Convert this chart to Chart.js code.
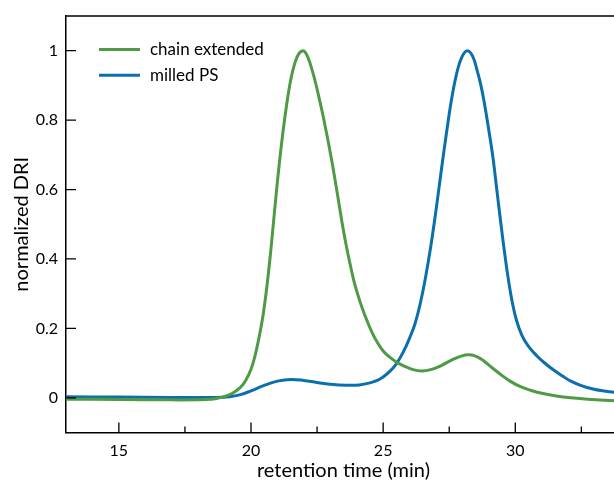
<!DOCTYPE html>
<html>
<head>
<meta charset="utf-8">
<script src="https://cdn.jsdelivr.net/npm/chart.js@4.4.1/dist/chart.umd.min.js"></script>
<style>
	html, body { margin: 0; padding: 0; overflow: hidden; background: #fff; }
	#wrap { position: absolute; left: 0; top: 0; width: 624px; height: 483px; }
</style>
</head>
<body>
<div id="wrap"><canvas id="chart"></canvas></div>
<script>
// Data
// ================================================================================
let chain_x = [13, 15, 17, 18.3, 18.7, 19.0, 19.3, 19.6, 19.8, 20.0, 20.15, 20.3,
	20.45, 20.6, 20.75, 20.9, 21.05, 21.2, 21.35, 21.5, 21.65, 21.8, 21.97, 22.1,
	22.25, 22.4, 22.55, 22.7, 22.85, 23.0, 23.15, 23.3, 23.45, 23.6, 23.75, 23.9,
	24.05, 24.2, 24.4, 24.6, 24.8, 25.0, 25.25, 25.52, 25.8, 26.1, 26.45, 26.8,
	27.2, 27.6, 27.95, 28.22, 28.5, 28.8, 29.1, 29.45, 29.8, 30.2, 30.6, 31.0,
	31.5, 32.1, 32.74, 33.4, 34];
let chain_y = [-0.004, -0.005, -0.006, -0.005, -0.002, 0.004, 0.013, 0.03, 0.05, 0.082, 0.12, 0.172,
	0.235, 0.32, 0.425, 0.545, 0.66, 0.76, 0.845, 0.915, 0.962, 0.99, 1.0, 0.99,
	0.96, 0.92, 0.873, 0.822, 0.766, 0.706, 0.642, 0.573, 0.503, 0.44, 0.385, 0.335,
	0.295, 0.26, 0.22, 0.185, 0.157, 0.135, 0.117, 0.102, 0.091, 0.082, 0.077, 0.081,
	0.093, 0.109, 0.12, 0.124, 0.12, 0.107, 0.088, 0.067, 0.048, 0.032, 0.021, 0.013,
	0.006, 0.0, -0.004, -0.007, -0.009];

let milled_x = [13, 15, 17, 18.5, 19.2, 19.6, 20.0, 20.5, 21.0, 21.5, 22.0, 22.5,
	23.0, 23.6, 24.1, 24.5, 24.8, 25.0, 25.25, 25.5, 25.75, 26.0, 26.2, 26.4,
	26.6, 26.8, 27.0, 27.2, 27.4, 27.6, 27.8, 28.0, 28.19, 28.38, 28.55, 28.7,
	28.85, 29.0, 29.15, 29.3, 29.45, 29.6, 29.75, 29.9, 30.05, 30.25, 30.5, 30.8,
	31.1, 31.45, 31.8, 32.1, 32.5, 32.9, 33.3, 33.75, 34];
let milled_y = [0.003, 0.002, 0.001, 0.001, 0.003, 0.009, 0.02, 0.036, 0.048, 0.053, 0.05, 0.044,
	0.039, 0.036, 0.037, 0.043, 0.051, 0.06, 0.076, 0.098, 0.13, 0.172, 0.212, 0.27,
	0.345, 0.435, 0.54, 0.655, 0.765, 0.865, 0.94, 0.985, 1.0, 0.985, 0.945, 0.9,
	0.84, 0.77, 0.695, 0.6, 0.505, 0.415, 0.335, 0.27, 0.222, 0.18, 0.148, 0.122,
	0.101, 0.08, 0.062, 0.048, 0.035, 0.026, 0.02, 0.016, 0.015];

let x_ticks = [15, 20, 25, 30];
let x_minor_ticks = [17.5, 22.5, 27.5, 32.5];
let y_ticks = [0, 0.2, 0.4, 0.6, 0.8, 1];

let to_points = (xs, ys) => xs.map((x, i) => ({x: x, y: ys[i]}));

const FONT = "Lato, 'Open Sans', sans-serif";

// Inward tick marks, box frame and legend
// ================================================================================
let frame_plugin = {
	id: 'frame',
	afterDatasetsDraw(chart) {
		let ctx = chart.ctx;
		let a = chart.chartArea;
		let xs = chart.scales.x, ys = chart.scales.y;
		ctx.save();
		ctx.strokeStyle = '#000';
		ctx.lineWidth = 1.5;
		ctx.beginPath();
		ctx.moveTo(a.left, a.top); ctx.lineTo(a.right, a.top);
		ctx.lineTo(a.right, a.bottom);
		ctx.stroke();

		ctx.lineWidth = 1.3;
		ctx.beginPath();
		y_ticks.forEach(v => {
			let p = ys.getPixelForValue(v);
			ctx.moveTo(a.left, p); ctx.lineTo(a.left + 10, p);
		});
		x_ticks.forEach(v => {
			let p = xs.getPixelForValue(v);
			ctx.moveTo(p, a.bottom); ctx.lineTo(p, a.bottom - 10);
		});
		x_minor_ticks.forEach(v => {
			let p = xs.getPixelForValue(v);
			ctx.moveTo(p, a.bottom); ctx.lineTo(p, a.bottom - 6);
		});
		ctx.stroke();

		// legend
		ctx.font = "17px " + FONT;
		ctx.textBaseline = 'middle';
		ctx.fillStyle = '#000';
		chart.data.datasets.forEach((ds, i) => {
			let y = a.top + 33.5 + i * 25.7;
			ctx.strokeStyle = ds.borderColor;
			ctx.lineWidth = 3;
			ctx.beginPath();
			ctx.moveTo(a.left + 33, y); ctx.lineTo(a.left + 74, y);
			ctx.stroke();
			ctx.fillText(ds.label, a.left + 84, y);
		});
		ctx.restore();
	}
};

// Chart
// ================================================================================
let chart = new Chart(document.getElementById('chart'), {
	type: 'line',
	data: {
		datasets: [{
			label: 'chain extended',
			data: to_points(chain_x, chain_y),
			borderColor: '#4e9a45',
			borderWidth: 3,
			pointRadius: 0,
			tension: 0.4
		}, {
			label: 'milled PS',
			data: to_points(milled_x, milled_y),
			borderColor: '#0b6fad',
			borderWidth: 3,
			pointRadius: 0,
			tension: 0.4
		}]
	},
	options: {
		responsive: true,
		maintainAspectRatio: false,
		animation: false,
		events: [],
		layout: {padding: {top: 16, right: 3, left: 0, bottom: 0}},
		plugins: {legend: {display: false}, tooltip: {enabled: false}},
		scales: {
			x: {
				type: 'linear',
				min: 13,
				max: 34,
				afterBuildTicks: s => { s.ticks = x_ticks.map(v => ({value: v})); },
				afterFit: s => { s.height = 50.5; s.paddingLeft = 0; s.paddingRight = 0; },
				grid: {display: false, drawTicks: false},
				border: {display: true, color: '#000', width: 1.5},
				ticks: {color: '#000', font: {family: FONT, size: 16}, padding: 9, maxRotation: 0},
				title: {display: true, text: 'retention time (min)', color: '#000',
					font: {family: FONT, size: 20}, padding: {top: 0, bottom: 0}}
			},
			y: {
				type: 'linear',
				min: -0.1,
				max: 1.1,
				afterBuildTicks: s => { s.ticks = y_ticks.map(v => ({value: v})); },
				afterFit: s => { s.width = 66; s.paddingTop = 0; s.paddingBottom = 0; },
				grid: {display: false, drawTicks: false},
				border: {display: true, color: '#000', width: 1.5},
				ticks: {color: '#000', font: {family: FONT, size: 16}, padding: 8,
					callback: v => String(Math.round(v * 10) / 10)},
				title: {display: true, text: 'normalized DRI', color: '#000',
					font: {family: FONT, size: 20}, padding: {top: 10, bottom: 0}}
			}
		}
	},
	plugins: [frame_plugin]
});
</script>
</body>
</html>
